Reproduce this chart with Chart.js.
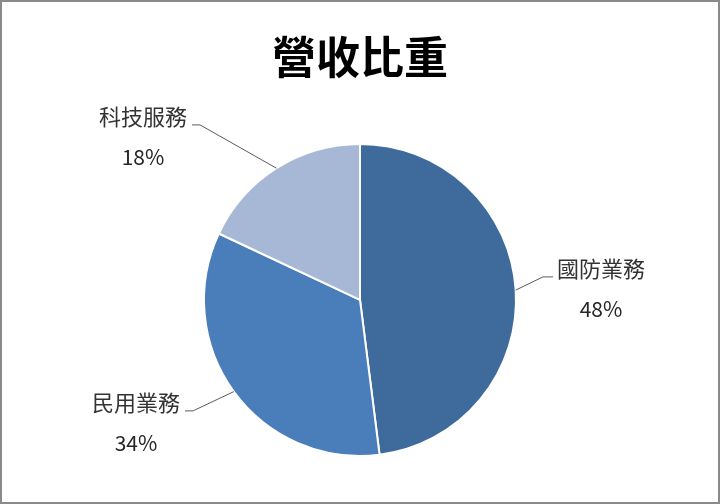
<!DOCTYPE html>
<html>
<head>
<meta charset="utf-8">
<script src="https://cdn.jsdelivr.net/npm/chart.js@4"></script>
<style>
  html, body { margin: 0; padding: 0; background: #fff; }
  #wrap { position: relative; width: 720px; height: 504px; box-sizing: border-box; border: 2px solid #8a8a8a; }
  canvas { display: block; }
</style>
</head>
<body>
<div id="wrap"><canvas id="chart" width="716" height="500"></canvas></div>
<script>
// data
const categories = ['國防業務', '民用業務', '科技服務'];
const shares = [48, 34, 18];
const sliceColors = ['#3f6a9c', '#4a7ebb', '#a6b8d5'];

// where each label's leader line bends, relative to the pie centre
const elbows = [[183, -23], [-167, 111], [-160, -175]];

const FONT = '"Noto Sans CJK TC", "Noto Sans CJK SC", sans-serif';

// draws the Excel-style labels with leader lines
const leaderLabels = {
    id: 'leaderLabels',
    afterDatasetsDraw(chart) {
        const ctx = chart.ctx;
        const meta = chart.getDatasetMeta(0);
        const total = shares.reduce((a, b) => a + b, 0);
        ctx.save();
        meta.data.forEach((arc, i) => {
            const { x, y, startAngle, endAngle, outerRadius } = arc.getProps(['x', 'y', 'startAngle', 'endAngle', 'outerRadius'], true);
            const mid = (startAngle + endAngle) / 2;
            const px = x + Math.cos(mid) * outerRadius;
            const py = y + Math.sin(mid) * outerRadius;
            const ex = x + elbows[i][0];
            const ey = y + elbows[i][1];
            const right = ex > x;
            const sx = ex + (right ? 10 : -8);

            ctx.strokeStyle = '#5a5a5a';
            ctx.lineWidth = 1;
            ctx.beginPath();
            ctx.moveTo(px, py);
            ctx.lineTo(ex, ey);
            ctx.lineTo(sx, ey);
            ctx.stroke();

            ctx.font = '22px ' + FONT;
            const w = ctx.measureText(categories[i]).width;
            const cx = right ? sx + 4 + w / 2 : sx - 5 - w / 2;
            ctx.fillStyle = '#333';
            ctx.textAlign = 'center';
            ctx.textBaseline = 'middle';
            ctx.fillText(categories[i], cx, ey - 8);
            ctx.fillStyle = '#262626';
            ctx.font = '21px ' + FONT;
            ctx.fillText(Math.round(shares[i] / total * 100) + '%', cx, ey + 32);
        });
        ctx.restore();
    }
};

new Chart(document.getElementById('chart'), {
    type: 'pie',
    data: {
        labels: categories,
        datasets: [{
            data: shares,
            backgroundColor: sliceColors,
            borderColor: '#ffffff',
            borderWidth: 2,
        }],
    },
    options: {
        responsive: false,
        animation: false,
        layout: {
            padding: { top: 0, left: 201, right: 201, bottom: 45 },
        },
        plugins: {
            legend: { display: false },
            tooltip: { enabled: false },
            title: {
                display: true,
                text: '營收比重',
                color: '#000',
                font: { family: FONT, size: 44, weight: 'bold' },
                padding: { top: 29, bottom: 59 },
            },
        },
    },
    plugins: [leaderLabels],
});
</script>
</body>
</html>
